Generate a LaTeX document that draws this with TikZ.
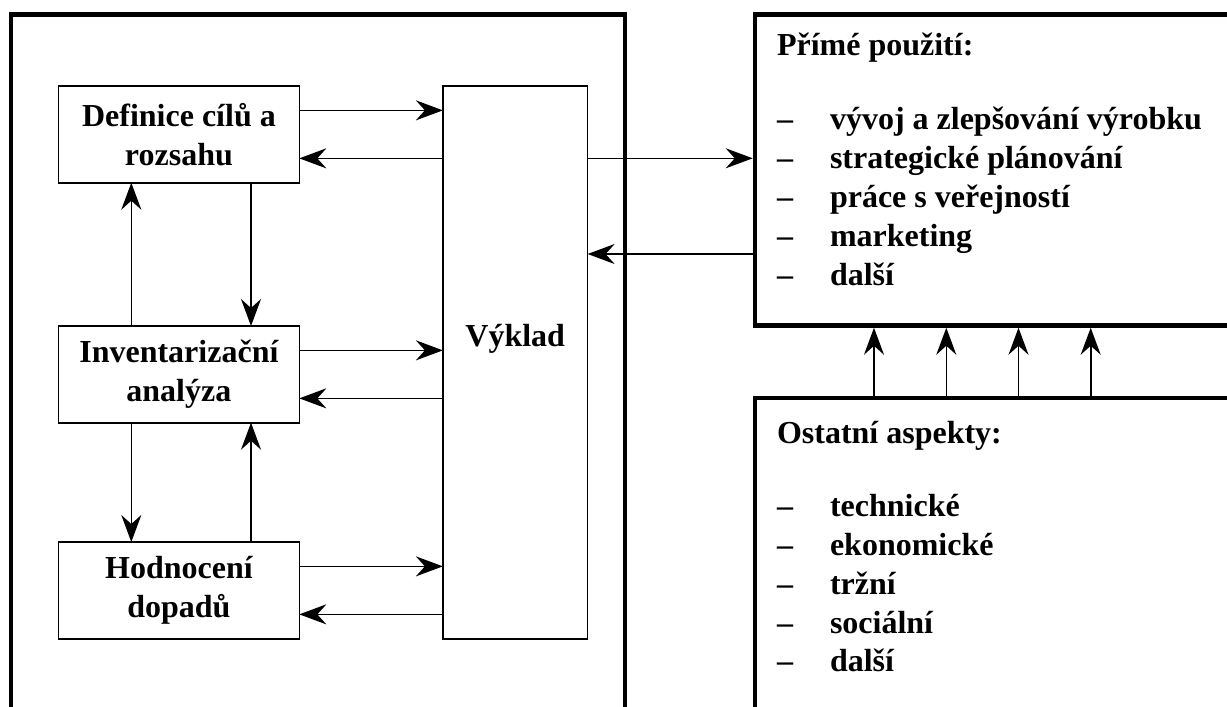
\documentclass[tikz,border=0pt]{standalone}
\usepackage{fontspec}
\setmainfont{Liberation Serif}
\usetikzlibrary{arrows.meta,calc}
\begin{document}
\begin{tikzpicture}[x=1pt,y=-1pt,
  every node/.style={font=\fontsize{32}{39}\selectfont\bfseries, outer sep=0pt},
  frame/.style={draw, line width=4.5pt, inner sep=0pt, anchor=north west},
  inbox/.style={draw, line width=1.6pt, inner sep=0pt, align=center, minimum width=240.8pt, minimum height=96.7pt},
  txt/.style={inner sep=0pt, anchor=base west},
  arr/.style={line width=1.6pt, -{Stealth[length=27pt,width=20pt,inset=9pt]}},
  ]
\useasboundingbox (0,0) rectangle (1227,707);
\clip (0,0) rectangle (1227,707);

% frames
\node[frame, minimum width=614pt, minimum height=760pt] (lca) at (11,14.5) {};
\node[frame, minimum width=560pt, minimum height=311pt] (pu) at (755,14.5) {};
\node[frame, minimum width=560pt, minimum height=420pt] (os) at (755,398) {};

% inner boxes
\node[inbox] (defi) at (178.9,134.35) {Definice cílů a\\rozsahu};
\node[inbox] (inv) at (178.9,374.35) {Inventarizační\\analýza};
\node[inbox] (hod) at (178.9,590.35) {Hodnocení\\dopadů};
\node[draw, line width=1.6pt, inner sep=0pt, minimum width=144.7pt, minimum height=553pt] (vyk) at (515.25,362.5) {};
\node[inner sep=0pt] (vyt) at ($(vyk.center)+(0,-24)$) {Výklad};

% horizontal arrows between phases and Vyklad
\foreach \b in {defi,inv,hod}{
  \coordinate (\b-o) at ($(\b.east)+(0,-24)$);
  \coordinate (\b-i) at ($(\b.east)+(0,24)$);
  \draw[arr] (\b-o) -- (\b-o -| vyk.west);
  \draw[arr] (\b-i -| vyk.west) -- (\b-i);
}

% vertical arrows
\coordinate (v1) at ($(inv.north)+(-47.6,0)$);
\draw[arr] (v1) -- (v1 |- defi.south);
\coordinate (v2) at ($(defi.south)+(72.1,0)$);
\draw[arr] (v2) -- (v2 |- inv.north);
\coordinate (v3) at ($(inv.south)+(-47.6,0)$);
\draw[arr] (v3) -- (v3 |- hod.north);
\coordinate (v4) at ($(hod.north)+(72.1,0)$);
\draw[arr] (v4) -- (v4 |- inv.south);

% Vyklad <-> prime pouziti
\coordinate (r1) at ($(vyk.east)+(0,-204.2)$);
\draw[arr, shorten >=2.25pt] (r1) -- (r1 -| pu.west);
\coordinate (r2) at ($(vyk.east)+(0,-108.5)$);
\draw[arr] (r2 -| pu.west) -- (r2);

% ostatni aspekty -> prime pouziti
\foreach \dx [count=\i] in {119,191.3,263.5,335.7}{
  \coordinate (u\i) at ($(os.north west)+(\dx,0)$);
  \draw[arr, shorten >=2.25pt] (u\i) -- (u\i |- pu.south);
}

% texts in right frames
\node[txt] (puh) at (777,55) {Přímé použití:};
\foreach \t [count=\i] in {vývoj a zlepšování výrobku, strategické plánování, práce s veřejností, marketing, další}{
  \node[txt] (pud\i) at (777,{129.5+39.1*(\i-1)}) {–};
  \node[txt] (put\i) at (830,{129.5+39.1*(\i-1)}) {\t};
}
\node[txt] (osh) at (777,443) {Ostatní aspekty:};
\foreach \t [count=\i] in {technické, ekonomické, tržní, sociální, další}{
  \node[txt] (osd\i) at (777,{516.7+38.8*(\i-1)}) {–};
  \node[txt] (ost\i) at (830,{516.7+38.8*(\i-1)}) {\t};
}
\end{tikzpicture}
\end{document}
